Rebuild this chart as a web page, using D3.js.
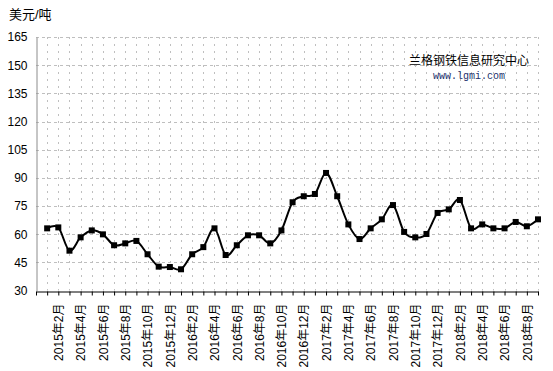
<!DOCTYPE html>
<html><head><meta charset="utf-8">
<script src="https://cdn.jsdelivr.net/npm/d3@7"></script>
<style>
body{margin:0;background:#fff;}
text{font-family:"Liberation Sans",Arial,"Noto Sans CJK SC",sans-serif;}
</style></head>
<body><svg id="c" width="553" height="371"></svg>
<script>
const months = ["", "2015年1月","2015年2月","2015年3月","2015年4月","2015年5月","2015年6月","2015年7月","2015年8月","2015年9月","2015年10月","2015年11月","2015年12月",
"2016年1月","2016年2月","2016年3月","2016年4月","2016年5月","2016年6月","2016年7月","2016年8月","2016年9月","2016年10月","2016年11月","2016年12月",
"2017年1月","2017年2月","2017年3月","2017年4月","2017年5月","2017年6月","2017年7月","2017年8月","2017年9月","2017年10月","2017年11月","2017年12月",
"2018年1月","2018年2月","2018年3月","2018年4月","2018年5月","2018年6月","2018年7月","2018年8月","2018年9月"];
const prices = [null, 63.1,63.6,51.2,58.3,62.0,59.9,54.1,55.1,56.4,49.3,42.7,42.5,41.3,49.3,53.1,63.1,48.9,54.1,59.4,59.4,55.1,62.0,77.0,80.2,81.4,92.6,80.2,65.2,57.4,63.1,67.9,75.5,61.2,58.3,60.1,71.3,73.2,78.2,63.1,65.2,63.1,63.1,66.5,64.2,67.9];
const yTicks = [30,45,60,75,90,105,120,135,150,165];
const yTitle = "美元/吨";
const wmTitle = "兰格钢铁信息研究中心";
const wmUrl = "www.lgmi.com";

const svg = d3.select("#c");
const L=36, R=538, T=37, B=290.5;
const x = d3.scalePoint().domain(d3.range(months.length)).range([L,R]);
const y = d3.scaleLinear().domain([30,165]).range([B,T]);

// horizontal grid
svg.append("g").selectAll("line").data(yTicks.filter(d=>d>30)).join("line")
  .attr("x1",L).attr("x2",R).attr("y1",d=>Math.round(y(d))+0.5).attr("y2",d=>Math.round(y(d))+0.5)
  .attr("stroke","#bfbfbf").attr("stroke-dasharray","3,3");
// vertical grid
svg.append("g").selectAll("line").data(d3.range(1,months.length)).join("line")
  .attr("x1",d=>Math.round(x(d))+0.5).attr("x2",d=>Math.round(x(d))+0.5).attr("y1",T).attr("y2",B)
  .attr("stroke","#bfbfbf").attr("stroke-dasharray","2,5");

// y axis
const ya = svg.append("g").attr("transform",`translate(${L+0.5},0)`)
  .call(d3.axisLeft(y).tickValues(yTicks).tickSize(0).tickPadding(9));
ya.select(".domain").attr("stroke","#8c8c8c");
ya.selectAll("text").attr("font-size",12).attr("fill","#000");

// x axis
const xa = svg.append("g").attr("transform",`translate(0,${Math.round(B)+0.5})`)
  .call(d3.axisBottom(x).tickSizeOuter(0).tickSizeInner(4).tickFormat(""));
xa.select(".domain").attr("stroke","#000");
xa.selectAll(".tick line").attr("stroke","#000");
xa.selectAll(".tick").filter(d=>d>0 && d%2===0).append("text")
  .attr("transform","rotate(-90)").attr("x",-12).attr("y",0).attr("dy","0.35em")
  .attr("text-anchor","end").attr("font-size",12).attr("fill","#000")
  .text(d=>months[d]);

// line
const pts = prices.map((v,i)=>[i,v]).filter(d=>d[1]!=null);
svg.append("path").datum(pts)
  .attr("d",d3.line().x(d=>x(d[0])).y(d=>y(d[1])).curve(d3.curveCatmullRom.alpha(0)))
  .attr("fill","none").attr("stroke","#000").attr("stroke-width",2);
svg.append("g").selectAll("rect").data(pts).join("rect")
  .attr("x",d=>x(d[0])-3).attr("y",d=>y(d[1])-3).attr("width",6).attr("height",6)
  .attr("fill","#000");

// titles
svg.append("text").attr("x",9).attr("y",19).attr("font-size",13).attr("fill","#000").text(yTitle);
svg.append("text").attr("x",469).attr("y",65).attr("text-anchor","middle").attr("font-size",12)
  .attr("fill","#000").style("font-family","'Noto Sans CJK SC'").text(wmTitle);
svg.append("text").attr("x",469).attr("y",79).attr("text-anchor","middle").attr("font-size",10)
  .attr("fill","#1a2f6b").style("font-family","'Liberation Mono',monospace").text(wmUrl);
</script></body></html>
